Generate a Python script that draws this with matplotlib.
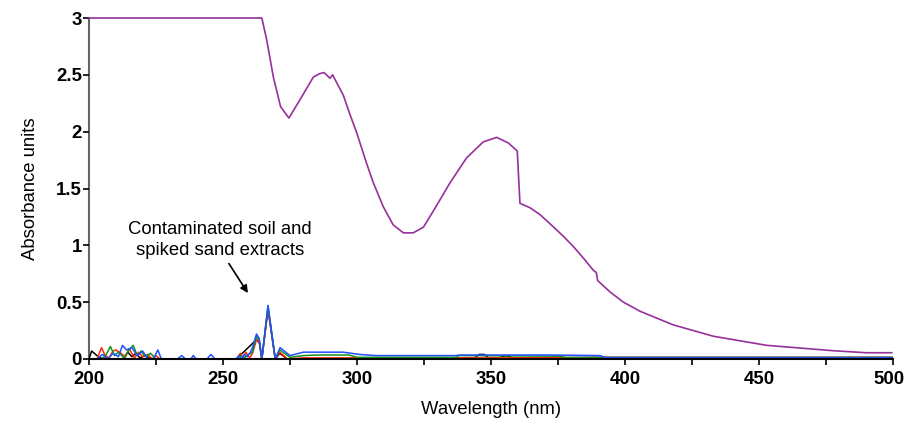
import numpy as np
import matplotlib as mpl
mpl.use('Agg')
import matplotlib.pyplot as plt
import matplotlib.transforms as mtransforms

# reference standard (purple), wavelength in nm vs absorbance
wl_std = [200, 264.5, 266.3, 268.8, 271.5, 274.6, 278.7, 283.7, 286.0, 287.7,
          289.9, 290.9, 294.9, 297.4, 299.9, 303.6, 306.1, 309.8, 313.5, 317.3,
          321.0, 324.8, 329.7, 334.7, 340.9, 347.1, 352.1, 356.5, 359.8, 360.8,
          364.6, 368.3, 372.0, 377.0, 380.7, 384.4, 388.2, 389.3, 389.8, 394.4,
          399.4, 405.6, 411.8, 418.0, 433.0, 452.9, 477.6, 490.0, 499.5]
abs_std = [3.0, 3.0, 2.81, 2.48, 2.22, 2.12, 2.28, 2.48, 2.51, 2.52,
           2.47, 2.50, 2.32, 2.15, 1.99, 1.72, 1.55, 1.34, 1.18, 1.11,
           1.11, 1.16, 1.35, 1.55, 1.77, 1.91, 1.95, 1.90, 1.83, 1.37,
           1.33, 1.27, 1.19, 1.08, 0.99, 0.89, 0.78, 0.76, 0.69, 0.59,
           0.50, 0.42, 0.36, 0.30, 0.20, 0.12, 0.073, 0.055, 0.055]

# extracts
wl_blue = [200, 203, 205, 207, 209, 211, 212.5, 214, 216, 218, 220, 222, 224,
           225.7, 227, 233, 234.6, 236, 238, 238.9, 240, 244, 245.5, 247, 255,
           256, 257, 258, 259, 260, 261, 262.5, 263.5, 264.5, 266.8, 269.5,
           271.3, 275, 280, 283.7, 294.8, 301, 307, 337, 338, 372, 390.7, 393,
           500]
abs_blue = [0, 0, 0.04, 0, 0.05, 0.02, 0.12, 0.08, 0.10, 0.03, 0.07, 0, 0,
            0.08, 0, 0, 0.03, 0, 0, 0.03, 0, 0, 0.04, 0, 0,
            0.03, 0, 0.04, 0.02, 0.05, 0.10, 0.22, 0.18, 0, 0.47, 0,
            0.10, 0.03, 0.06, 0.06, 0.06, 0.04, 0.03, 0.03, 0.035, 0.035, 0.03,
            0.01, 0.01]

wl_green = [200, 204, 206, 208, 209.5, 211, 213, 215, 216.5, 218, 219.5, 221,
            223, 225, 227, 255, 256.5, 258, 259.5, 261, 262.5, 263.6, 264.5,
            266.8, 269.5, 271.2, 275, 280, 285, 297, 300, 337, 338, 376, 378,
            500]
abs_green = [0, 0, 0.02, 0.11, 0.03, 0.06, 0.01, 0.08, 0.12, 0.03, 0.07, 0.02,
             0.05, 0, 0, 0, 0.03, 0.01, 0.04, 0.06, 0.20, 0.16, 0,
             0.47, 0, 0.08, 0.015, 0.03, 0.035, 0.035, 0.015, 0.015, 0.03,
             0.025, 0.01, 0.01]

wl_red = [200, 203, 204.7, 206, 207.5, 209, 210, 212, 213.5, 215, 217, 218.5,
          220, 222, 223.5, 225, 226.5, 228, 255, 256.5, 257.5, 258.5, 260,
          261, 262.5, 263.6, 264.5, 266.8, 269.5, 271.2, 274, 280, 500]
abs_red = [0, 0, 0.10, 0.03, 0.01, 0.07, 0.08, 0.05, 0.02, 0.09, 0.01, 0.06,
           0.02, 0.04, 0.0, 0.03, 0.0, 0.0, 0, 0.05, 0.01, 0.06, 0.01,
           0.05, 0.17, 0.14, 0, 0.44, 0, 0.06, 0, 0.01, 0.01]

wl_black = [200, 201, 203, 205, 213, 214.5, 216, 217.5, 219, 221, 223, 255,
            262.5, 263.6, 264.5, 266.8, 269.5, 271.2, 274, 344, 345.5, 347.5,
            349, 353, 355.5, 358, 390, 500]
abs_black = [0, 0.07, 0.03, 0, 0, 0.06, 0.02, 0.05, 0.01, 0.03, 0, 0,
             0.17, 0.14, 0, 0.44, 0, 0.05, 0, 0.01, 0.04, 0.04,
             0.01, 0.01, 0.03, 0.01, 0.015, 0.015]

x_ticks = [200, 250, 300, 350, 400, 450, 500]
y_ticks = [0, 0.5, 1, 1.5, 2, 2.5, 3]
y_ticklabels = ['0', '0.5', '1', '1.5', '2', '2.5', '3']

plt.rc('font', family=['Liberation Sans', 'DejaVu Sans'])
ftsize = 13.3

fig, ax = plt.subplots(figsize=(9.06, 4.22), dpi=100)
plt.subplots_adjust(left=0.0982, right=0.9857, bottom=0.1493, top=0.9573)

lw = 1.1
ax.plot(wl_black, abs_black, color='black', lw=lw)
ax.plot(wl_red, abs_red, color='#ff2a00', lw=lw)
ax.plot(wl_green, abs_green, color='#14901a', lw=lw)
ax.plot(wl_blue, abs_blue, color='#2050ff', lw=lw)
ax.plot(wl_std, abs_std, color='#96309a', lw=1.2, clip_on=False)

ax.set_xlim(200, 500)
ax.set_ylim(0, 3)
ax.set_xticks(x_ticks)
ax.set_xticks(np.arange(225, 500, 50), minor=True)
ax.set_yticks(y_ticks)
ax.set_yticklabels(y_ticklabels)
for lab in ax.get_xticklabels() + ax.get_yticklabels():
    lab.set_fontweight('bold')
ax.tick_params(axis='both', which='both', direction='out', length=4,
               width=1.2, labelsize=13.4)
ax.tick_params(axis='x', pad=5)
ax.tick_params(axis='y', pad=1)

# nudge the last x label so it stays inside the figure
last = ax.get_xticklabels()[-1]
last.set_transform(last.get_transform() +
                   mtransforms.ScaledTranslation(-3 / 72, 0, fig.dpi_scale_trans))

ax.spines['top'].set_visible(False)
ax.spines['right'].set_visible(False)
ax.spines['left'].set_color('#666666')
ax.spines['left'].set_linewidth(1.5)
ax.spines['bottom'].set_color('black')
ax.spines['bottom'].set_linewidth(1.5)
ax.spines['left'].set_zorder(0.5)

ax.set_xlabel('Wavelength (nm)', fontsize=ftsize, labelpad=9)
ax.set_ylabel('Absorbance units', fontsize=ftsize, labelpad=12)

ax.text(248.9, 1.045, 'Contaminated soil and\nspiked sand extracts',
        ha='center', va='center', fontsize=ftsize, linespacing=1.3)
ax.annotate('', xy=(259.3, 0.58), xytext=(252.2, 0.84),
            arrowprops=dict(arrowstyle='-|>', color='black', lw=1.2,
                            shrinkA=0, shrinkB=0, mutation_scale=11))

plt.savefig('out.png', dpi=100)
